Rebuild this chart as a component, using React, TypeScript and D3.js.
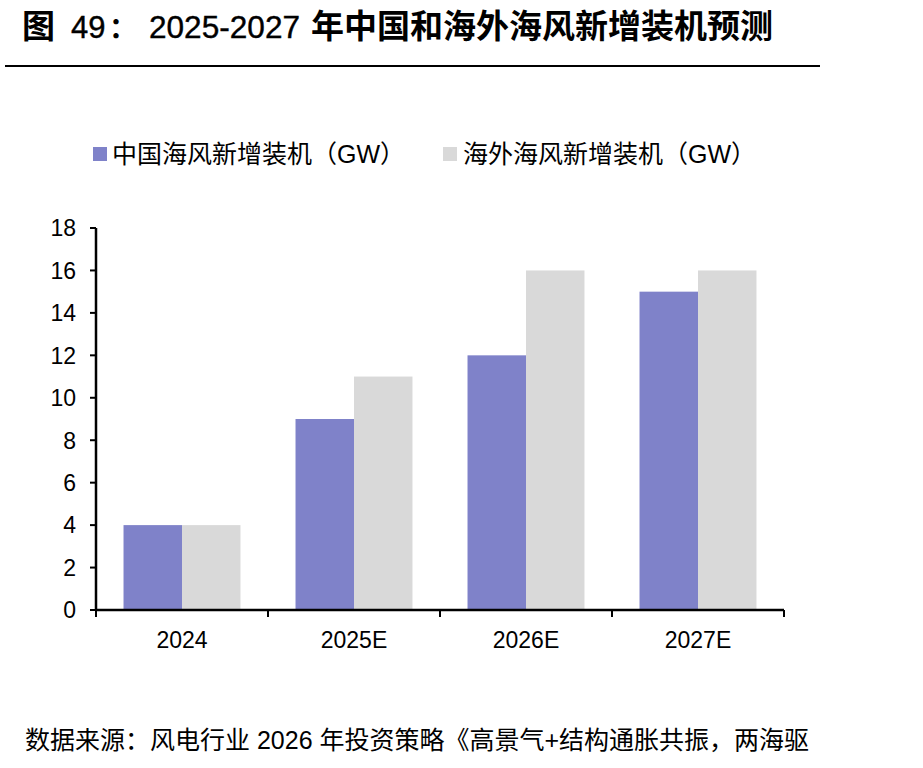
import React from "react";
import * as d3 from "d3";

const categories = ["2024", "2025E", "2026E", "2027E"];
const seriesNames = ["中国海风新增装机（GW）", "海外海风新增装机（GW）"];
const chinaValues = [4, 9, 12, 15];
const overseasValues = [4, 11, 16, 16];
const yTicks = [0, 2, 4, 6, 8, 10, 12, 14, 16, 18];
const colors = ["#7F82C9", "#D9D9D9"];
const titleParts = ["图", "49", "：", "2025-2027", "年中国和海外海风新增装机预测"];
const sourceText = "数据来源：风电行业 2026 年投资策略《高景气+结构通胀共振，两海驱";

const LATIN = "'Liberation Sans', Arial, sans-serif";
const CJK = "'Noto Sans CJK SC', sans-serif";
const FONT = "'Liberation Sans', Arial, 'Noto Sans CJK SC', sans-serif";

export default function App() {
  const W = 923, H = 768;
  const x0 = 96, x1 = 784, yTop = 228, yBot = 610;
  const x = d3.scaleBand<string>().domain(categories).range([x0, x1]).padding(0);
  const y = d3.scaleLinear().domain([0, 18]).range([yBot, yTop]);
  const groupW = x.step() * 0.68;
  const sub = d3.scaleBand<string>().domain(["0", "1"]).range([0, groupW]).padding(0);
  const series = [chinaValues, overseasValues];
  const ty = 38;

  return (
    <svg width={W} height={H} style={{ position: "absolute", left: 0, top: 0, background: "#fff" }}>
      <text x={22} y={ty} fontSize={33} fontFamily={CJK} fontWeight="bold" fill="#000">{titleParts[0]}</text>
      <text x={71} y={ty} fontSize={31} fontFamily={LATIN} fill="#000" stroke="#000" strokeWidth={0.4}>{titleParts[1]}</text>
      <text x={109} y={ty} fontSize={28} fontFamily={CJK} fontWeight="bold" fill="#000">{titleParts[2]}</text>
      <text x={149} y={ty} fontSize={31} fontFamily={LATIN} fill="#000" stroke="#000" strokeWidth={0.4} textLength={151} lengthAdjust="spacingAndGlyphs">{titleParts[3]}</text>
      <text x={311} y={ty} fontSize={33} fontFamily={CJK} fontWeight="bold" fill="#000">{titleParts[4]}</text>
      <line x1={5} x2={820} y1={66} y2={66} stroke="#000" strokeWidth={2} />

      {/* legend */}
      <rect x={93} y={147} width={14} height={14} fill={colors[0]} />
      <text x={112} y={163} fontFamily={FONT} fontSize={25} fill="#000">{seriesNames[0]}</text>
      <rect x={443} y={147} width={14} height={14} fill={colors[1]} />
      <text x={463} y={163} fontFamily={FONT} fontSize={25} fill="#000">{seriesNames[1]}</text>

      {/* bars */}
      {categories.map((c, i) => {
        const gx = (x(c) as number) + (x.step() - groupW) / 2;
        return series.map((s, j) => (
          <rect key={c + j} x={gx + (sub(String(j)) as number)} y={y(s[i])}
            width={sub.bandwidth()} height={yBot - y(s[i])} fill={colors[j]} />
        ));
      })}

      {/* y axis */}
      <line x1={x0} x2={x0} y1={yTop} y2={yBot} stroke="#000" strokeWidth={2.5} />
      {yTicks.map((t) => (
        <g key={t}>
          <line x1={x0 - 6} x2={x0} y1={y(t)} y2={y(t)} stroke="#000" strokeWidth={2} />
          <text x={x0 - 20} y={y(t)} dy="0.36em" textAnchor="end" fontFamily={FONT} fontSize={23} fill="#000">{t}</text>
        </g>
      ))}

      {/* x axis */}
      <line x1={x0} x2={x1} y1={yBot} y2={yBot} stroke="#000" strokeWidth={2.5} />
      {[...categories.map((c) => x(c) as number), x1].map((v, i) => (
        <line key={i} x1={v} x2={v} y1={yBot} y2={yBot + 7} stroke="#000" strokeWidth={2} />
      ))}
      {categories.map((c) => (
        <text key={c} x={(x(c) as number) + x.step() / 2} y={648} textAnchor="middle" fontFamily={FONT} fontSize={23} fill="#000">{c}</text>
      ))}

      <text x={25} y={749} fontFamily={FONT} fontSize={25} fill="#000">{sourceText}</text>
    </svg>
  );
}
